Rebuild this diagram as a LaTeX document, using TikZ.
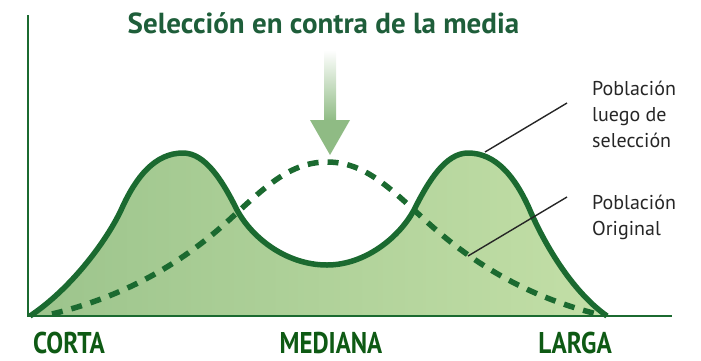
\documentclass[tikz,border=0pt]{standalone}
\usepackage{fontspec}
\setmainfont{PT Sans}
\definecolor{dkgreen}{HTML}{1B6A30}
\definecolor{titlegreen}{HTML}{1E5E3A}
\definecolor{labgreen}{HTML}{0E5A14}
\definecolor{fillL}{HTML}{9CC48C}
\definecolor{fillR}{HTML}{C3DFA7}
\definecolor{arrowgreen}{HTML}{8FBB84}
\tikzset{
  solidcurve/.style={draw=dkgreen, line width=5.5pt, line join=round},
  dashcurve/.style={draw=dkgreen, line width=5.5pt, dash pattern=on 11pt off 9pt},
  axisline/.style={draw=dkgreen, line width=2.5pt},
  leader/.style={draw=black!85, line width=1.4pt},
  axislabel/.style={text=labgreen, font=\fontsize{30}{30}\selectfont\bfseries, inner sep=0pt, anchor=base},
  sidelabel/.style={text=black!85, font=\fontsize{20}{26}\selectfont, align=left, inner sep=0pt, anchor=north west},
}
\def\solidpath{(30,316) .. controls (72,288) and (108,239) .. (122,208)
  .. controls (136,177) and (155,153) .. (183,153)
  .. controls (205,153) and (222,180) .. (236,208)
  .. controls (250,236) and (285,265) .. (327,265)
  .. controls (366,265) and (401,236) .. (415,208)
  .. controls (429,180) and (446,153) .. (468,153)
  .. controls (496,153) and (515,177) .. (529,208)
  .. controls (542,239) and (570,290) .. (607,316)}
\begin{document}
\begin{tikzpicture}[x=1pt,y=-1pt]
\useasboundingbox (0,0) rectangle (701,360);
% filled region under selected population
\shade[left color=fillL, right color=fillR] \solidpath -- cycle;
% dashed original population
\draw[dashcurve] (52,314) .. controls (130,295) and (185,260) .. (228,221)
  .. controls (265,187) and (290,162) .. (327,162)
  .. controls (364,162) and (389,187) .. (426,221)
  .. controls (469,260) and (522,295) .. (597,314);
% solid curve
\draw[solidcurve] \solidpath;
% axes
\coordinate (origin) at (28,316);
\coordinate (ytop) at (28,15);
\coordinate (xend) at (672,316);
\draw[axisline] (ytop) -- (origin) -- (xend);
% arrow
\shade[top color=white, bottom color=arrowgreen] (324,50) rectangle (336,121);
\coordinate (hl) at (310,120);
\coordinate (hr) at (350,120);
\coordinate (tip) at (330,155);
\fill[arrowgreen] (hl) -- (hr) -- (tip) -- cycle;
% title
\node[text=titlegreen, font=\fontsize{29}{29}\selectfont\bfseries, inner sep=0pt, anchor=base] (title) at (323.5,33) {Selección en contra de la media};
% axis labels
\node[axislabel] (corta) at (69,353) {\scalebox{0.84}[1]{CORTA}};
\node[axislabel] (mediana) at (331,353) {\scalebox{0.83}[1]{MEDIANA}};
\node[axislabel] (larga) at (575,353) {\scalebox{0.84}[1]{LARGA}};
% side labels
\node[sidelabel] (lab1) at (592,81) {Población\\luego de\\selección};
\node[sidelabel] (lab2) at (592,195) {Población\\Original};
% leaders
\coordinate (p1) at (485,152);
\coordinate (q1) at (567,103);
\coordinate (p2) at (468,256);
\coordinate (q2) at (567,197);
\draw[leader] (p1) -- (q1);
\draw[leader] (p2) -- (q2);
\end{tikzpicture}
\end{document}
